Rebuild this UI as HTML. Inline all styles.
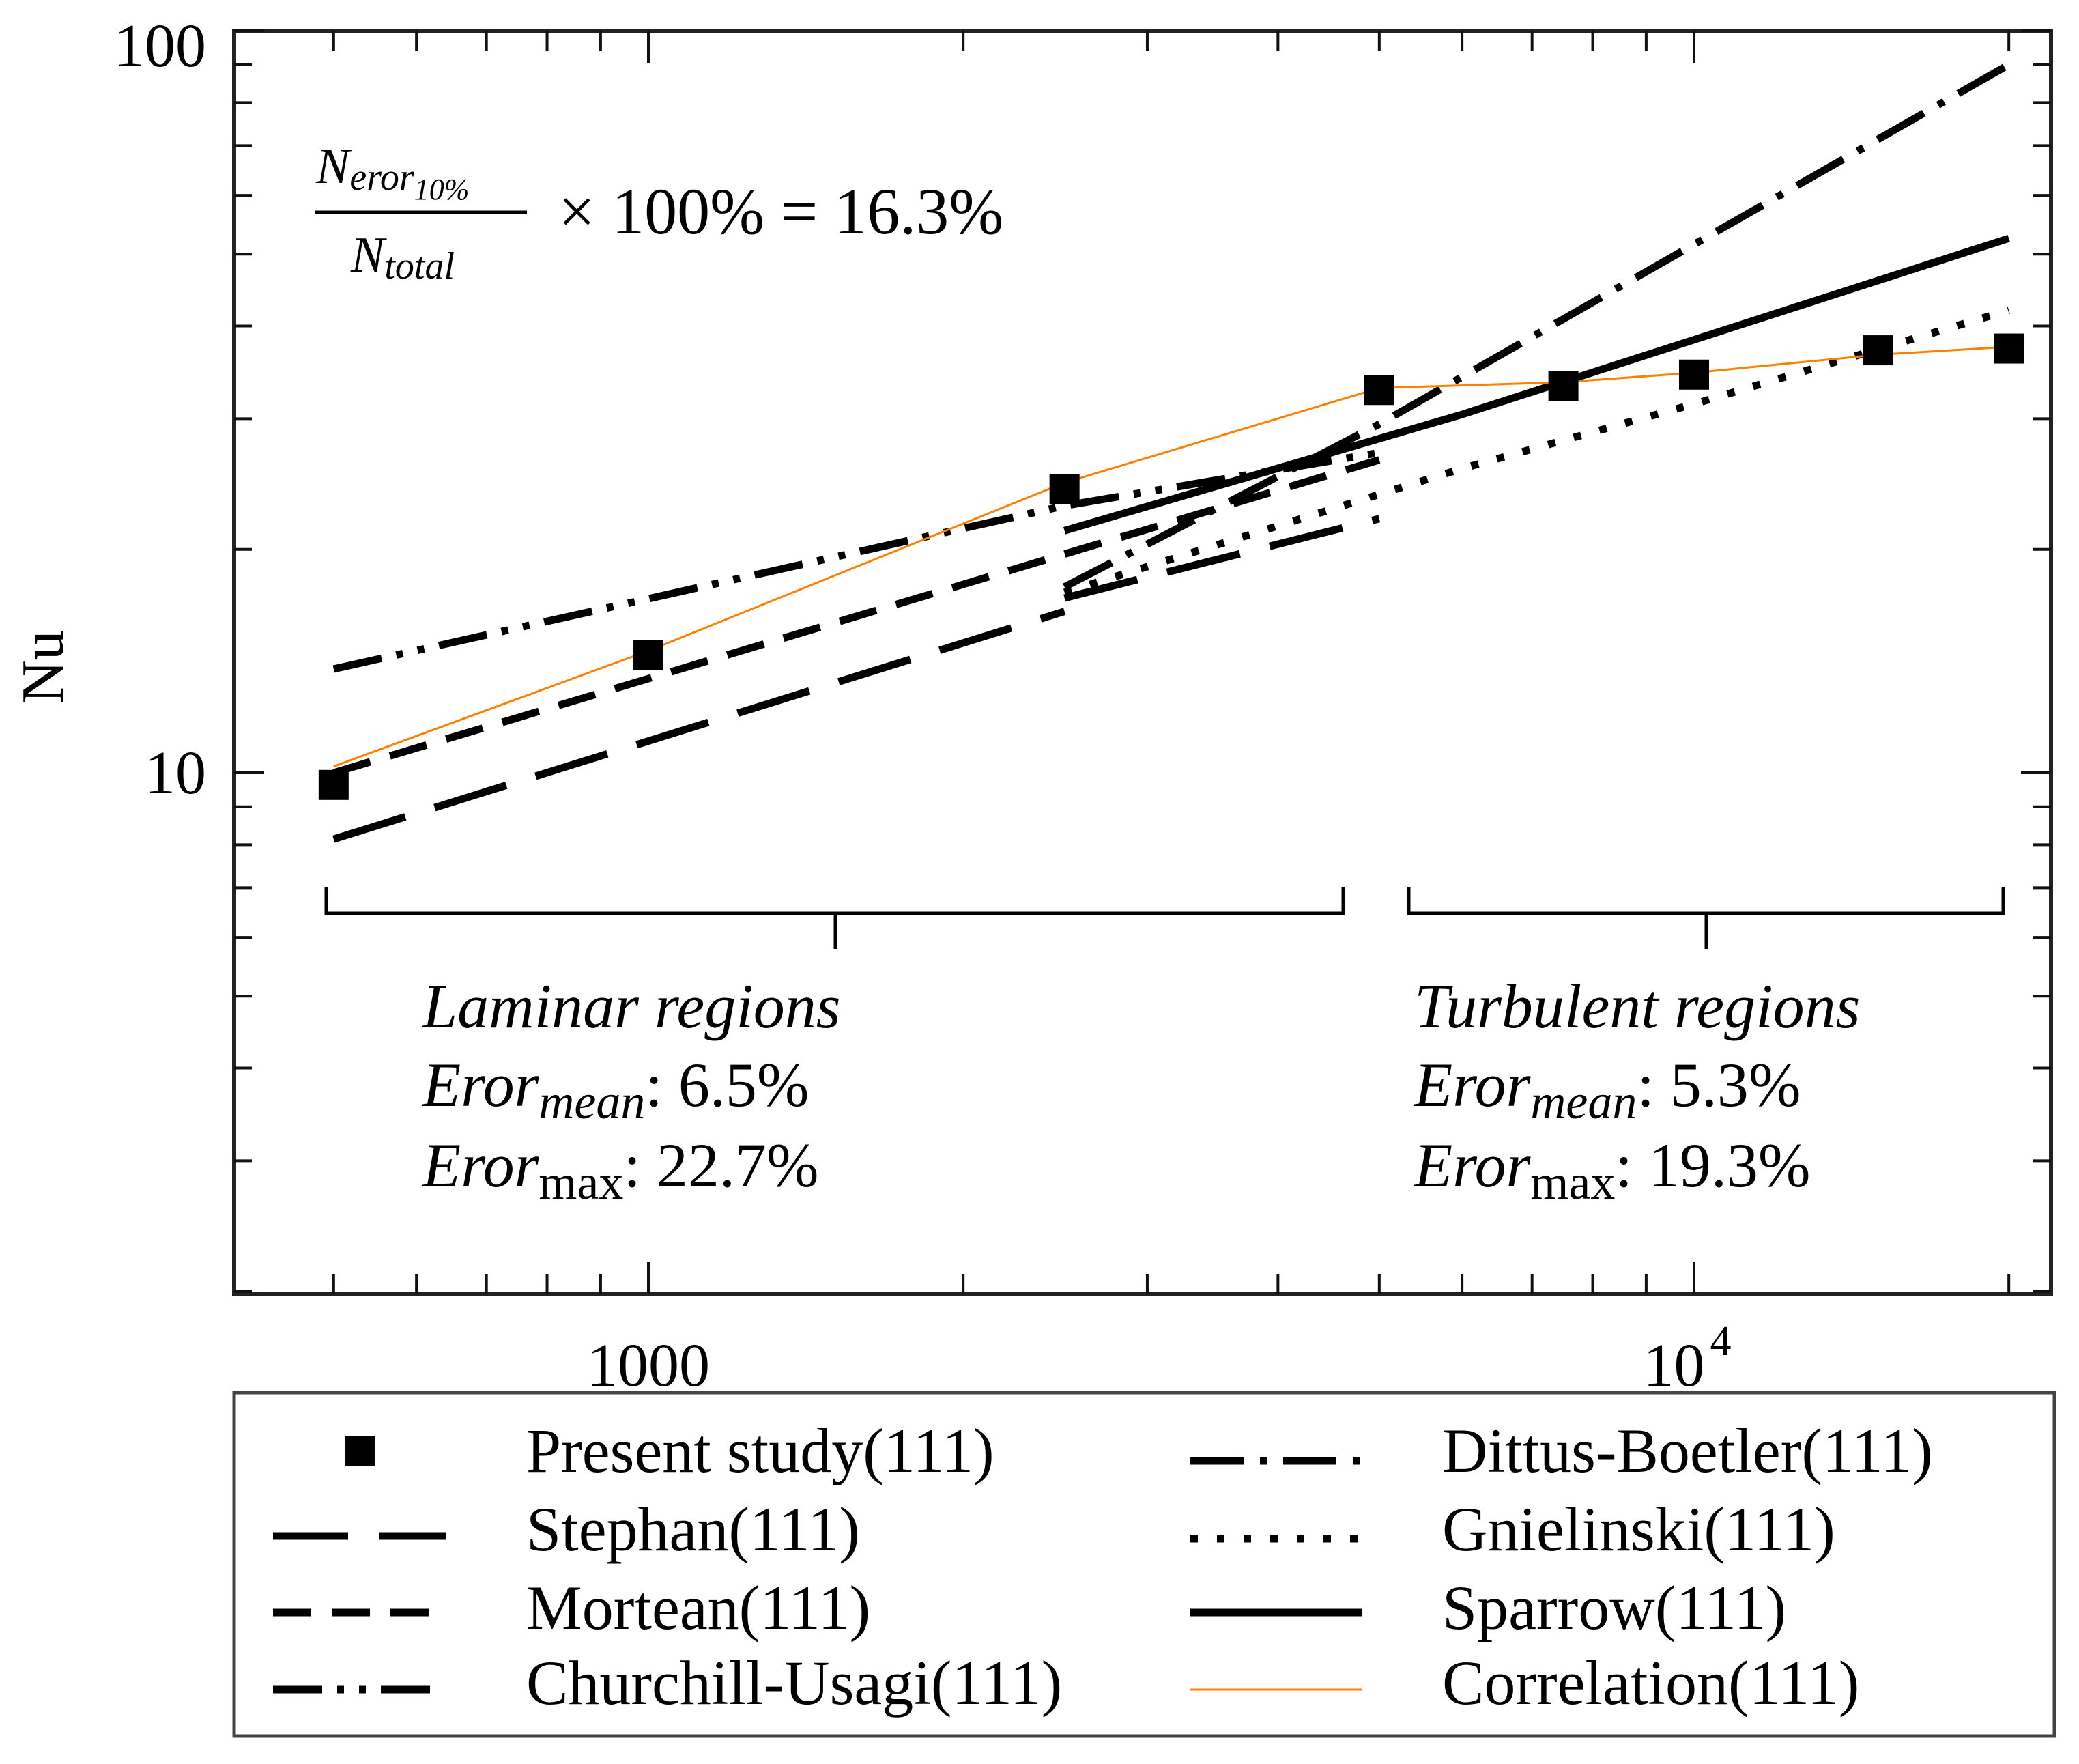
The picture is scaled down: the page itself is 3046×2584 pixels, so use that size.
<!DOCTYPE html>
<html><head><meta charset="utf-8"><style>
html,body{margin:0;padding:0;background:#fff;}
svg{display:block;font-family:"Liberation Serif",serif;}
</style></head><body>
<svg id="chart" width="3046" height="2584" viewBox="0 0 3046 2584" xmlns="http://www.w3.org/2000/svg">
<g id="marks"></g>
<g id="axes"></g>
<g id="annot">
  <text x="463" y="268" font-size="74" font-style="italic">N<tspan font-size="56" dy="10">eror</tspan><tspan font-size="44" dy="14">10%</tspan></text>
  <line x1="461" y1="311" x2="772" y2="311" stroke="#000" stroke-width="5"/>
  <text x="514" y="398" font-size="74" font-style="italic">N<tspan font-size="56" dy="10">total</tspan></text>
  <text x="818" y="342" font-size="96">× 100% = 16.3%</text>
  <path d="M478,1299 L478,1338 L1968,1338 L1968,1299 M1224,1338 L1224,1390" fill="none" stroke="#000" stroke-width="5"/>
  <path d="M2064,1299 L2064,1338 L2935,1338 L2935,1299 M2500,1338 L2500,1390" fill="none" stroke="#000" stroke-width="5"/>
  <text x="619" y="1505" font-size="92" font-style="italic">Laminar regions</text>
  <text x="619" y="1620" font-size="92"><tspan font-style="italic">Eror</tspan><tspan font-style="italic" font-size="72" dy="18">mean</tspan><tspan dy="-18">: 6.5%</tspan></text>
  <text x="619" y="1738" font-size="92"><tspan font-style="italic">Eror</tspan><tspan font-size="72" dy="18">max</tspan><tspan dy="-18">: 22.7%</tspan></text>
  <text x="2072" y="1505" font-size="92" font-style="italic">Turbulent regions</text>
  <text x="2072" y="1620" font-size="92"><tspan font-style="italic">Eror</tspan><tspan font-style="italic" font-size="72" dy="18">mean</tspan><tspan dy="-18">: 5.3%</tspan></text>
  <text x="2072" y="1738" font-size="92"><tspan font-style="italic">Eror</tspan><tspan font-size="72" dy="18">max</tspan><tspan dy="-18">: 19.3%</tspan></text>
  <text transform="translate(92,977) rotate(-90)" text-anchor="middle" font-size="88">Nu</text>
</g>
<g id="legend">
  <rect x="343" y="2040" width="2667" height="503" fill="none" stroke="#444" stroke-width="5"/>
  <rect x="505" y="2103" width="44" height="44" fill="#000"/>
  <text x="771" y="2156" font-size="92">Present study(111)</text>
  <line x1="400" y1="2250" x2="654" y2="2250" stroke="#000" stroke-width="11" stroke-dasharray="110,45"/>
  <text x="771" y="2271" font-size="92">Stephan(111)</text>
  <line x1="400" y1="2362" x2="632" y2="2362" stroke="#000" stroke-width="11" stroke-dasharray="56,30"/>
  <text x="771" y="2386" font-size="92">Mortean(111)</text>
  <line x1="400" y1="2475" x2="632" y2="2475" stroke="#000" stroke-width="11" stroke-dasharray="72,22,10,22,10,22"/>
  <text x="771" y="2496" font-size="92">Churchill-Usagi(111)</text>
  <line x1="1744" y1="2140" x2="1996" y2="2140" stroke="#000" stroke-width="11" stroke-dasharray="78,24,10,24"/>
  <text x="2113" y="2156" font-size="92">Dittus-Boetler(111)</text>
  <line x1="1744" y1="2254" x2="1996" y2="2254" stroke="#000" stroke-width="11" stroke-dasharray="11,28"/>
  <text x="2113" y="2271" font-size="92">Gnielinski(111)</text>
  <line x1="1744" y1="2362" x2="1996" y2="2362" stroke="#000" stroke-width="11"/>
  <text x="2113" y="2386" font-size="92">Sparrow(111)</text>
  <line x1="1744" y1="2475" x2="1996" y2="2475" stroke="#ff8000" stroke-width="3"/>
  <text x="2113" y="2496" font-size="92">Correlation(111)</text>
</g>
</svg>
<script>
// ---- data ----
const presentRe = [500, 1000, 2500, 5000, 7500, 10000, 15000, 20000];
const presentNu = [9.63, 14.4, 24.1, 32.8, 33.2, 34.4, 37.1, 37.3];
const corrRe = [500, 1000, 2500, 5000, 7500, 10000, 15000, 20000];
const corrNu = [10.2, 14.6, 24.6, 33.0, 33.6, 34.6, 36.6, 37.5];
const stephanLamRe = [500, 2500];
const stephanLamNu = [8.14, 16.5];
const stephanTurRe = [2500, 5000];
const stephanTurNu = [17.2, 22.0];
const morteanRe = [500, 5000];
const morteanNu = [10.0, 26.4];
const churchillRe = [500, 2500, 5000];
const churchillNu = [13.8, 22.9, 27.0];
const dittusRe = [2500, 5000, 20000];
const dittusNu = [17.8, 29.5, 90.0];
const gnielRe = [2500, 6000, 10000, 20000];
const gnielNu = [17.5, 25.7, 31.4, 42.0];
const sparrowRe = [2500, 6000, 20000];
const sparrowNu = [21.2, 30.4, 52.5];
const xMajorTicks = [1000, 10000];
const xMinorTicks = [500, 600, 700, 800, 900, 2000, 3000, 4000, 5000, 6000, 7000, 8000, 9000, 20000];
const yMajorTicks = [10, 100];
const yMinorTicks = [2, 3, 4, 5, 6, 7, 8, 9, 20, 30, 40, 50, 60, 70, 80, 90];

// ---- axes functions ----
const L = 343, R = 3005, T = 45, B = 1896;
const xDec = 1532, yDec = 1087;
function X(v){ return 950 + (Math.log10(v) - 3) * xDec; }
function Y(v){ return 1132 - (Math.log10(v) - 1) * yDec; }
const NS = "http://www.w3.org/2000/svg";
const marks = document.getElementById('marks');
const axes = document.getElementById('axes');
function mk(tag, attrs, parent){
  const e = document.createElementNS(NS, tag);
  for (const k in attrs) e.setAttribute(k, attrs[k]);
  parent.appendChild(e);
  return e;
}
function series(re, nu, name, stroke, width, dash){
  const pts = re.map((r, i) => X(r).toFixed(1) + ',' + Y(nu[i]).toFixed(1)).join(' ');
  const p = mk('polyline', {points: pts, fill: 'none', stroke: stroke, 'stroke-width': width}, marks);
  if (dash) p.setAttribute('stroke-dasharray', dash);
  
  
}
series(stephanLamRe, stephanLamNu, 'stephan-laminar-line', '#000', 11, '110,45');
series(stephanTurRe, stephanTurNu, 'stephan-turbulent-line', '#000', 11, '110,45');
series(morteanRe, morteanNu, 'mortean-line', '#000', 11, '56,30');
series(churchillRe, churchillNu, 'churchill-usagi-line', '#000', 11, '72,22,10,22,10,22');
series(dittusRe, dittusNu, 'dittus-boelter-line', '#000', 11, '78,24,10,24');
series(gnielRe, gnielNu, 'gnielinski-line', '#000', 11, '11,28');
series(sparrowRe, sparrowNu, 'sparrow-line', '#000', 11, '');
series(corrRe, corrNu, 'correlation-line', '#ff8000', 3, '');
presentRe.forEach((r, i) => {
  const m = mk('rect', {x: X(r) - 22, y: Y(presentNu[i]) - 22, width: 44, height: 44, fill: '#000'}, marks);
  
  
});

// frame
const frame = mk('rect', {x: L, y: T, width: R - L, height: B - T, fill: 'none', stroke: '#222', 'stroke-width': 6}, axes);


function xtick(v, len){
  const x = X(v);
  const a = mk('line', {x1: x, y1: B, x2: x, y2: B - len, stroke: '#111', 'stroke-width': 4}, axes);
  
  
  const b = mk('line', {x1: x, y1: T, x2: x, y2: T + len, stroke: '#111', 'stroke-width': 4}, axes);
  
  
}
function ytick(v, len){
  const y = Y(v);
  const a = mk('line', {x1: L, y1: y, x2: L + len, y2: y, stroke: '#111', 'stroke-width': 4}, axes);
  
  
  const b = mk('line', {x1: R, y1: y, x2: R - len, y2: y, stroke: '#111', 'stroke-width': 4}, axes);
  
  
}
xMajorTicks.forEach(v => xtick(v, 48));
xMinorTicks.forEach(v => xtick(v, 30));
yMajorTicks.forEach(v => ytick(v, 44));
yMinorTicks.forEach(v => ytick(v, 26));

// tick labels
const t1 = mk('text', {x: X(1000), y: 2030, 'font-size': 90, 'text-anchor': 'middle'}, axes);
t1.textContent = '1000';


const t2 = mk('text', {x: X(10000) - 10, y: 2030, 'font-size': 90, 'text-anchor': 'middle'}, axes);
t2.innerHTML = '10<tspan font-size="62" dy="-45" dx="8">4</tspan>';


const t3 = mk('text', {x: 302, y: Y(100) + 52, 'font-size': 90, 'text-anchor': 'end'}, axes);
t3.textContent = '100';


const t4 = mk('text', {x: 302, y: Y(10) + 30, 'font-size': 90, 'text-anchor': 'end'}, axes);
t4.textContent = '10';


</script>
</body></html>
